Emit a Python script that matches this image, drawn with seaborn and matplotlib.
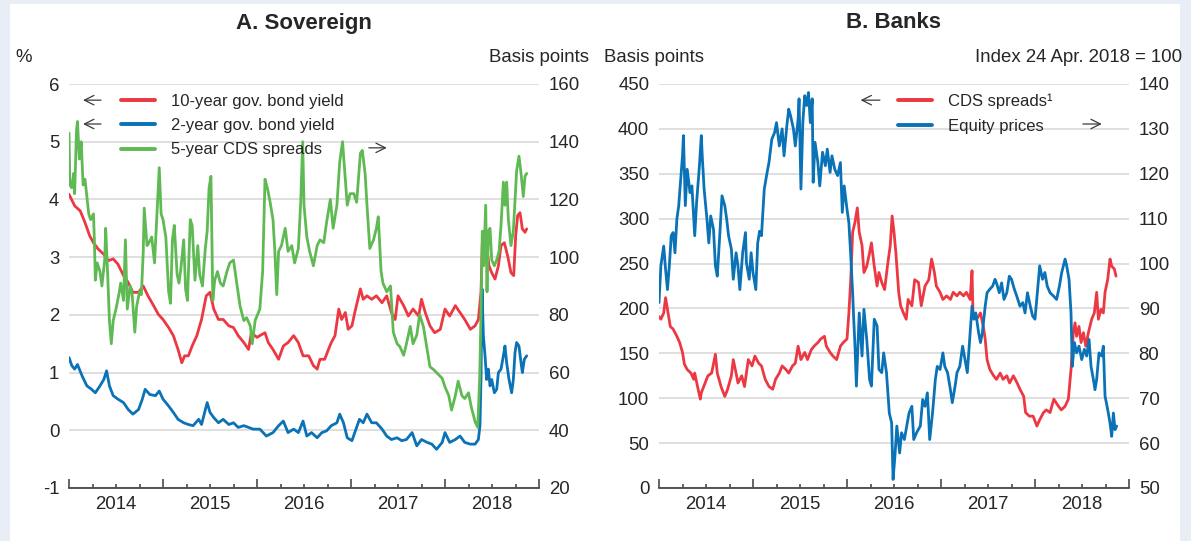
import matplotlib
matplotlib.use("Agg")
import matplotlib.pyplot as plt
import seaborn as sns
from matplotlib.ticker import FixedLocator, FuncFormatter, NullFormatter
from matplotlib.patches import Rectangle
from matplotlib.lines import Line2D

# ---------------------------------------------------------------------------
# Data (decimal year, value)
# ---------------------------------------------------------------------------
# Panel A: sovereign, % (left) and basis points (right)
sov_10y = [(2014.00, 4.09), (2014.06, 3.89), (2014.12, 3.80), (2014.17, 3.60), (2014.22, 3.37),
           (2014.26, 3.25), (2014.31, 3.14), (2014.37, 3.05), (2014.42, 2.94), (2014.47, 2.97),
           (2014.52, 2.88), (2014.58, 2.68), (2014.63, 2.56), (2014.68, 2.39), (2014.74, 2.39),
           (2014.79, 2.50), (2014.84, 2.33), (2014.90, 2.16), (2014.95, 2.01), (2015.00, 1.92),
           (2015.06, 1.78), (2015.11, 1.64), (2015.16, 1.40), (2015.20, 1.17), (2015.23, 1.29),
           (2015.27, 1.29), (2015.31, 1.46), (2015.36, 1.64), (2015.41, 1.92), (2015.46, 2.33),
           (2015.50, 2.39), (2015.54, 2.10), (2015.59, 1.92), (2015.64, 1.92), (2015.70, 1.81),
           (2015.75, 1.78), (2015.80, 1.64), (2015.86, 1.52), (2015.91, 1.40), (2015.94, 1.69),
           (2016.00, 1.61), (2016.03, 1.64), (2016.085, 1.69), (2016.12, 1.52), (2016.17, 1.40),
           (2016.23, 1.23), (2016.28, 1.46), (2016.33, 1.52), (2016.39, 1.64), (2016.44, 1.52),
           (2016.49, 1.29), (2016.55, 1.29), (2016.60, 1.12), (2016.64, 1.06), (2016.67, 1.23),
           (2016.72, 1.23), (2016.76, 1.40), (2016.79, 1.52), (2016.83, 1.64), (2016.87, 2.10),
           (2016.90, 1.92), (2016.94, 2.04), (2016.97, 1.75), (2017.01, 1.81), (2017.04, 2.04),
           (2017.10, 2.45), (2017.13, 2.27), (2017.17, 2.33), (2017.22, 2.27), (2017.27, 2.33),
           (2017.33, 2.21), (2017.38, 2.33), (2017.43, 2.04), (2017.47, 1.92), (2017.50, 2.33),
           (2017.56, 2.16), (2017.61, 1.98), (2017.66, 2.10), (2017.72, 1.98), (2017.75, 2.27),
           (2017.79, 2.04), (2017.84, 1.81), (2017.89, 1.69), (2017.95, 1.75), (2018.00, 2.10),
           (2018.05, 1.98), (2018.11, 2.16), (2018.16, 2.04), (2018.21, 1.92), (2018.27, 1.75),
           (2018.32, 1.81), (2018.355, 1.92), (2018.383, 2.39), (2018.397, 3.25), (2018.419, 2.91),
           (2018.443, 3.20), (2018.468, 2.85), (2018.497, 2.73), (2018.532, 2.62), (2018.568, 2.85),
           (2018.596, 3.20), (2018.631, 3.25), (2018.667, 3.02), (2018.702, 2.73), (2018.731, 2.68),
           (2018.752, 3.37), (2018.773, 3.72), (2018.798, 3.77), (2018.823, 3.49), (2018.851, 3.43),
           (2018.869, 3.49)]

sov_2y = [(2014.00, 1.26), (2014.03, 1.12), (2014.06, 1.06), (2014.09, 1.14), (2014.14, 0.94),
          (2014.19, 0.77), (2014.24, 0.71), (2014.28, 0.65), (2014.33, 0.77), (2014.37, 0.88),
          (2014.40, 1.03), (2014.43, 0.77), (2014.47, 0.60), (2014.52, 0.54), (2014.58, 0.48),
          (2014.63, 0.36), (2014.68, 0.28), (2014.74, 0.36), (2014.78, 0.54), (2014.81, 0.71),
          (2014.86, 0.62), (2014.92, 0.60), (2014.96, 0.68), (2015.00, 0.54), (2015.06, 0.42),
          (2015.11, 0.31), (2015.16, 0.19), (2015.22, 0.13), (2015.27, 0.10), (2015.32, 0.08),
          (2015.38, 0.19), (2015.41, 0.10), (2015.47, 0.48), (2015.50, 0.31), (2015.54, 0.22),
          (2015.59, 0.13), (2015.64, 0.19), (2015.70, 0.10), (2015.75, 0.13), (2015.80, 0.05),
          (2015.86, 0.08), (2015.91, 0.05), (2015.96, 0.02), (2016.03, 0.02), (2016.10, -0.10),
          (2016.17, -0.04), (2016.23, 0.08), (2016.28, 0.16), (2016.33, -0.04), (2016.39, 0.02),
          (2016.44, -0.04), (2016.49, 0.16), (2016.53, -0.10), (2016.58, -0.04), (2016.64, -0.13),
          (2016.69, -0.04), (2016.74, -0.01), (2016.79, 0.08), (2016.85, 0.13), (2016.88, 0.28),
          (2016.92, 0.13), (2016.96, -0.13), (2017.01, -0.18), (2017.04, -0.04), (2017.09, 0.19),
          (2017.13, 0.13), (2017.17, 0.28), (2017.22, 0.13), (2017.27, 0.13), (2017.33, 0.02),
          (2017.38, -0.10), (2017.43, -0.16), (2017.49, -0.13), (2017.54, -0.18), (2017.59, -0.16),
          (2017.65, -0.04), (2017.70, -0.27), (2017.75, -0.16), (2017.81, -0.21), (2017.86, -0.24),
          (2017.91, -0.33), (2017.97, -0.21), (2018.00, -0.04), (2018.05, -0.21), (2018.11, -0.16),
          (2018.16, -0.10), (2018.21, -0.21), (2018.27, -0.24), (2018.32, -0.24), (2018.355, -0.16),
          (2018.372, 0.08), (2018.383, 0.90), (2018.394, 2.45), (2018.408, 1.64), (2018.426, 1.29),
          (2018.443, 0.88), (2018.461, 1.06), (2018.479, 0.77), (2018.497, 0.88), (2018.525, 0.65),
          (2018.550, 0.71), (2018.568, 1.00), (2018.596, 1.06), (2018.621, 1.29), (2018.638, 1.46),
          (2018.656, 1.17), (2018.681, 0.88), (2018.709, 0.65), (2018.727, 0.88), (2018.745, 1.35),
          (2018.762, 1.52), (2018.787, 1.46), (2018.809, 1.17), (2018.823, 1.00), (2018.844, 1.23),
          (2018.869, 1.29)]

sov_cds = [(2014.00, 143), (2014.01, 125), (2014.03, 124), (2014.05, 129), (2014.06, 122),
           (2014.08, 144), (2014.09, 147), (2014.11, 134), (2014.13, 140), (2014.15, 125),
           (2014.17, 127), (2014.19, 121), (2014.21, 115), (2014.23, 113), (2014.26, 115),
           (2014.27, 106), (2014.28, 92), (2014.30, 98), (2014.33, 95), (2014.35, 90),
           (2014.38, 99), (2014.39, 110), (2014.41, 95), (2014.43, 78), (2014.45, 70),
           (2014.47, 78), (2014.50, 82), (2014.53, 87), (2014.55, 91), (2014.58, 85),
           (2014.60, 106), (2014.62, 82), (2014.65, 90), (2014.67, 88), (2014.70, 74),
           (2014.72, 83), (2014.75, 88), (2014.77, 87), (2014.79, 102), (2014.80, 117),
           (2014.83, 104), (2014.85, 105), (2014.88, 107), (2014.91, 98), (2014.93, 111),
           (2014.96, 131), (2014.98, 115), (2015.00, 113), (2015.03, 107), (2015.06, 88),
           (2015.08, 84), (2015.10, 106), (2015.12, 111), (2015.15, 94), (2015.17, 91),
           (2015.19, 96), (2015.22, 106), (2015.24, 89), (2015.26, 85), (2015.29, 113),
           (2015.31, 111), (2015.34, 92), (2015.37, 104), (2015.39, 94), (2015.42, 90),
           (2015.45, 103), (2015.47, 109), (2015.49, 124), (2015.51, 128), (2015.53, 85),
           (2015.55, 92), (2015.58, 95), (2015.61, 91), (2015.64, 90), (2015.68, 95),
           (2015.71, 98), (2015.75, 99), (2015.78, 92), (2015.82, 83), (2015.86, 78),
           (2015.89, 79), (2015.93, 76), (2015.95, 70), (2015.98, 78), (2016.03, 82),
           (2016.06, 95), (2016.085, 127), (2016.11, 124), (2016.14, 119), (2016.17, 113),
           (2016.19, 102), (2016.21, 87), (2016.23, 102), (2016.26, 104), (2016.30, 110),
           (2016.33, 102), (2016.37, 104), (2016.40, 98), (2016.44, 103), (2016.465, 119),
           (2016.486, 140), (2016.50, 118), (2016.53, 107), (2016.56, 102), (2016.60, 97),
           (2016.64, 104), (2016.67, 106), (2016.71, 105), (2016.74, 112), (2016.78, 120),
           (2016.81, 110), (2016.85, 118), (2016.88, 133), (2016.91, 140), (2016.94, 127),
           (2016.96, 118), (2016.99, 122), (2017.03, 122), (2017.06, 119), (2017.10, 136),
           (2017.12, 137), (2017.15, 129), (2017.17, 118), (2017.20, 103), (2017.24, 106),
           (2017.27, 110), (2017.29, 114), (2017.32, 95), (2017.34, 91), (2017.38, 88),
           (2017.42, 90), (2017.45, 74), (2017.49, 70), (2017.52, 69), (2017.56, 66),
           (2017.59, 70), (2017.63, 76), (2017.66, 70), (2017.70, 73), (2017.73, 80),
           (2017.77, 76), (2017.81, 68), (2017.84, 62), (2017.88, 61), (2017.91, 60),
           (2017.97, 58), (2018.00, 55), (2018.04, 52), (2018.07, 47), (2018.11, 52),
           (2018.14, 57), (2018.18, 52), (2018.21, 51), (2018.25, 53), (2018.28, 48),
           (2018.32, 43), (2018.348, 41), (2018.369, 58), (2018.383, 81), (2018.397, 109),
           (2018.411, 97), (2018.433, 118), (2018.447, 88), (2018.461, 109), (2018.479, 110),
           (2018.497, 99), (2018.525, 97), (2018.550, 99), (2018.575, 102), (2018.596, 111),
           (2018.621, 126), (2018.638, 118), (2018.656, 126), (2018.674, 113), (2018.702, 104),
           (2018.727, 109), (2018.745, 120), (2018.762, 130), (2018.787, 135), (2018.809, 129),
           (2018.833, 121), (2018.851, 128), (2018.869, 129)]

# Panel B: banks, basis points (left) and index (right)
bank_cds = [(2014.00, 191), (2014.02, 188), (2014.05, 195), (2014.07, 212), (2014.09, 199),
            (2014.12, 180), (2014.15, 177), (2014.19, 169), (2014.22, 162), (2014.25, 151),
            (2014.27, 138), (2014.30, 132), (2014.34, 128), (2014.37, 121), (2014.38, 128),
            (2014.41, 113), (2014.44, 99), (2014.45, 106), (2014.49, 117), (2014.52, 125),
            (2014.56, 128), (2014.60, 149), (2014.62, 128), (2014.66, 113), (2014.70, 102),
            (2014.73, 110), (2014.77, 125), (2014.79, 143), (2014.82, 128), (2014.84, 117),
            (2014.88, 125), (2014.91, 113), (2014.95, 143), (2014.99, 136), (2015.02, 147),
            (2015.06, 139), (2015.09, 136), (2015.13, 121), (2015.17, 113), (2015.21, 110),
            (2015.24, 121), (2015.28, 128), (2015.31, 136), (2015.35, 132), (2015.38, 128),
            (2015.42, 136), (2015.45, 139), (2015.48, 158), (2015.51, 143), (2015.55, 151),
            (2015.58, 143), (2015.62, 154), (2015.65, 158), (2015.69, 162), (2015.72, 166),
            (2015.76, 169), (2015.78, 158), (2015.82, 151), (2015.85, 147), (2015.89, 143),
            (2015.93, 158), (2015.96, 162), (2016.00, 166), (2016.02, 195), (2016.04, 232),
            (2016.06, 285), (2016.085, 296), (2016.11, 312), (2016.13, 285), (2016.16, 270),
            (2016.18, 240), (2016.21, 247), (2016.24, 262), (2016.26, 273), (2016.29, 247),
            (2016.32, 225), (2016.34, 240), (2016.37, 229), (2016.40, 221), (2016.43, 247),
            (2016.46, 270), (2016.48, 303), (2016.50, 285), (2016.52, 262), (2016.55, 218),
            (2016.57, 203), (2016.60, 195), (2016.63, 188), (2016.65, 210), (2016.69, 203),
            (2016.72, 232), (2016.76, 229), (2016.79, 203), (2016.83, 225), (2016.87, 232),
            (2016.90, 255), (2016.93, 240), (2016.95, 225), (2016.99, 218), (2017.02, 210),
            (2017.06, 214), (2017.10, 210), (2017.13, 218), (2017.17, 214), (2017.20, 218),
            (2017.24, 214), (2017.27, 218), (2017.31, 210), (2017.33, 242), (2017.34, 195),
            (2017.38, 188), (2017.42, 195), (2017.45, 180), (2017.47, 166), (2017.49, 143),
            (2017.52, 132), (2017.56, 125), (2017.59, 121), (2017.63, 128), (2017.66, 121),
            (2017.70, 125), (2017.73, 117), (2017.77, 125), (2017.81, 117), (2017.84, 110),
            (2017.88, 102), (2017.90, 84), (2017.94, 80), (2017.98, 80), (2018.02, 69),
            (2018.05, 76), (2018.09, 84), (2018.12, 87), (2018.16, 84), (2018.20, 99),
            (2018.25, 91), (2018.28, 87), (2018.32, 91), (2018.355, 99), (2018.383, 132),
            (2018.408, 173), (2018.426, 184), (2018.443, 169), (2018.468, 180), (2018.49, 162),
            (2018.515, 173), (2018.54, 158), (2018.568, 173), (2018.603, 188), (2018.631, 195),
            (2018.656, 218), (2018.674, 188), (2018.702, 199), (2018.727, 195), (2018.745, 218),
            (2018.773, 232), (2018.798, 255), (2018.816, 247), (2018.844, 244), (2018.862, 236)]

bank_equity = [(2014.00, 91.3), (2014.02, 99.5), (2014.05, 103.9), (2014.07, 98.7), (2014.09, 94.2),
               (2014.11, 99.5), (2014.13, 106.2), (2014.15, 106.9), (2014.17, 102.4), (2014.19, 109.9),
               (2014.21, 112.9), (2014.22, 115.8), (2014.25, 124.0), (2014.26, 128.5), (2014.28, 112.9),
               (2014.30, 121.0), (2014.33, 115.8), (2014.35, 117.3), (2014.38, 106.2), (2014.40, 113.6),
               (2014.43, 121.8), (2014.45, 128.5), (2014.46, 124.0), (2014.48, 116.6), (2014.51, 109.9),
               (2014.53, 104.6), (2014.55, 110.6), (2014.58, 107.6), (2014.60, 99.5), (2014.62, 97.2),
               (2014.65, 107.6), (2014.67, 115.1), (2014.70, 112.9), (2014.72, 109.9), (2014.74, 106.2),
               (2014.77, 103.2), (2014.79, 96.5), (2014.82, 102.4), (2014.84, 99.5), (2014.86, 94.2),
               (2014.89, 102.4), (2014.92, 106.9), (2014.93, 100.2), (2014.96, 96.5), (2014.98, 102.4),
               (2015.00, 98.0), (2015.03, 94.2), (2015.05, 104.6), (2015.07, 107.2), (2015.09, 106.2),
               (2015.12, 116.6), (2015.15, 120.3), (2015.17, 122.5), (2015.20, 127.7), (2015.23, 129.2),
               (2015.25, 131.4), (2015.28, 126.2), (2015.31, 130.0), (2015.33, 124.0), (2015.36, 130.7),
               (2015.38, 134.4), (2015.40, 132.9), (2015.43, 130.0), (2015.45, 126.2), (2015.48, 132.2),
               (2015.49, 136.7), (2015.51, 116.6), (2015.53, 131.4), (2015.55, 137.4), (2015.57, 135.2),
               (2015.59, 138.1), (2015.61, 131.4), (2015.63, 136.7), (2015.64, 118.1), (2015.66, 127.0),
               (2015.69, 122.5), (2015.71, 117.3), (2015.74, 124.8), (2015.77, 121.8), (2015.79, 125.5),
               (2015.82, 120.3), (2015.84, 124.0), (2015.87, 121.0), (2015.90, 119.6), (2015.93, 122.5),
               (2015.95, 111.4), (2015.97, 117.3), (2016.00, 112.1), (2016.02, 109.1), (2016.04, 101.7),
               (2016.06, 93.5), (2016.07, 88.3), (2016.085, 81.6), (2016.10, 72.7), (2016.13, 89.0),
               (2016.16, 79.4), (2016.18, 89.8), (2016.21, 83.1), (2016.24, 74.2), (2016.26, 72.7),
               (2016.29, 87.6), (2016.32, 86.1), (2016.34, 76.4), (2016.37, 75.7), (2016.39, 80.1),
               (2016.42, 75.7), (2016.45, 66.7), (2016.475, 64.5), (2016.49, 51.9), (2016.51, 57.1),
               (2016.53, 63.8), (2016.56, 57.8), (2016.58, 62.3), (2016.61, 60.8), (2016.635, 63.8),
               (2016.66, 66.7), (2016.69, 68.2), (2016.71, 60.8), (2016.74, 62.3), (2016.78, 63.8),
               (2016.805, 69.7), (2016.83, 68.2), (2016.855, 71.2), (2016.88, 60.8), (2016.91, 66.7),
               (2016.94, 74.2), (2016.96, 77.1), (2016.99, 76.4), (2017.02, 80.1), (2017.04, 77.1),
               (2017.07, 75.7), (2017.10, 71.9), (2017.12, 69.0), (2017.15, 72.7), (2017.17, 75.7),
               (2017.20, 77.1), (2017.23, 81.6), (2017.255, 78.6), (2017.28, 75.7), (2017.30, 81.6),
               (2017.33, 90.5), (2017.35, 87.6), (2017.37, 89.0), (2017.40, 84.6), (2017.42, 82.4),
               (2017.44, 84.6), (2017.47, 90.5), (2017.49, 93.5), (2017.52, 94.3), (2017.55, 95.0),
               (2017.575, 96.5), (2017.59, 95.7), (2017.62, 93.5), (2017.645, 95.7), (2017.67, 92.0),
               (2017.70, 93.5), (2017.727, 97.2), (2017.75, 96.5), (2017.78, 94.3), (2017.805, 92.8),
               (2017.84, 90.5), (2017.87, 91.3), (2017.894, 89.0), (2017.92, 93.5), (2017.95, 90.5),
               (2017.975, 88.3), (2018.00, 87.6), (2018.025, 93.5), (2018.05, 99.5), (2018.08, 96.5),
               (2018.105, 98.0), (2018.13, 95.0), (2018.16, 93.5), (2018.195, 92.8), (2018.23, 92.0),
               (2018.26, 95.0), (2018.284, 98.0), (2018.32, 101.0), (2018.337, 99.5), (2018.362, 96.5),
               (2018.383, 89.0), (2018.397, 77.1), (2018.419, 82.4), (2018.443, 80.1), (2018.468, 81.6),
               (2018.497, 78.6), (2018.525, 80.9), (2018.55, 79.4), (2018.575, 83.1), (2018.596, 77.1),
               (2018.621, 74.2), (2018.638, 71.9), (2018.656, 74.2), (2018.681, 80.1), (2018.709, 79.4),
               (2018.727, 81.6), (2018.745, 70.5), (2018.773, 67.5), (2018.798, 64.5), (2018.816, 61.5),
               (2018.834, 66.7), (2018.851, 63.0), (2018.869, 63.8)]

year_labels = ["2014", "2015", "2016", "2017", "2018"]
panel_titles = ["A. Sovereign", "B. Banks"]
sov_labels = ["10-year gov. bond yield", "2-year gov. bond yield", "5-year CDS spreads"]
bank_labels = ["CDS spreads\u00b9", "Equity prices"]

# ---------------------------------------------------------------------------
# Style
# ---------------------------------------------------------------------------
RED = "#ec3842"
BLUE = "#0a72b6"
GREEN = "#5fba53"
GRID = "#d9d9d9"
AXIS = "#3a3a3a"
TXT = "#262626"
FRAME = "#e9eef6"
FS = 13.4       # tick labels, units
FS_LEG = 12.0   # legend entries
LW = 2.0

sns.set_theme(style="white")
plt.rcParams["font.family"] = ["Liberation Sans", "DejaVu Sans"]
plt.rcParams["text.color"] = TXT
plt.rcParams["axes.unicode_minus"] = False

W, H = 1191, 541
fig = plt.figure(figsize=(W / 100, H / 100), dpi=100)
fig.patch.set_facecolor(FRAME)
fig.add_artist(Rectangle((10 / W, 0), 1170 / W, 537 / H, transform=fig.transFigure,
                         facecolor="white", edgecolor="none", zorder=-10))


def unzip(pairs):
    return [p[0] for p in pairs], [p[1] for p in pairs]


def make_panel(left_px):
    ax = fig.add_axes([left_px / W, (H - 488) / H, 470 / W, 404 / H])
    ax2 = ax.twinx()
    for a in (ax, ax2):
        for s in a.spines.values():
            s.set_visible(False)
        a.set_facecolor("none")
    ax.spines["bottom"].set_visible(True)
    ax.spines["bottom"].set_color(AXIS)
    ax.spines["bottom"].set_linewidth(1.2)
    ax.set_xlim(2014, 2019)
    ax.xaxis.set_major_locator(FixedLocator(list(range(2014, 2020))))
    ax.xaxis.set_major_formatter(NullFormatter())
    quarters = [y + q / 4 for y in range(2014, 2019) for q in (1, 2, 3)]
    mid = {2014 + i + 0.5: lab for i, lab in enumerate(year_labels)}
    ax.xaxis.set_minor_locator(FixedLocator(quarters))
    ax.xaxis.set_minor_formatter(FuncFormatter(
        lambda v, p: next((lab for k, lab in mid.items() if abs(k - v) < 1e-6), "")))
    ax.tick_params(axis="x", which="major", direction="in", length=6.5, width=1.1,
                   color=AXIS, bottom=True)
    ax.tick_params(axis="x", which="minor", direction="in", length=3.2, width=1.1,
                   color=AXIS, bottom=True, labelsize=FS, labelcolor=TXT, pad=6)
    ax.tick_params(axis="y", length=0, labelsize=FS, labelcolor=TXT, pad=7)
    ax2.tick_params(axis="y", length=0, labelsize=FS, labelcolor=TXT, pad=7)
    ax.grid(axis="y", color=GRID, linewidth=1.2)
    ax.set_axisbelow(True)
    return ax, ax2


def arrow(ax, x0, x1, y):
    ax.annotate("", xy=(x1, y), xytext=(x0, y), xycoords="axes fraction",
                arrowprops=dict(arrowstyle="->", lw=0.9, color=AXIS, mutation_scale=17))


def add_legend(ax, colors, labels, x_anchor):
    handles = [Line2D([], [], color=c, lw=2.8) for c in colors]
    ax.legend(handles, labels, loc="upper left", bbox_to_anchor=(x_anchor, 0.976),
              frameon=False, fontsize=FS_LEG, handlelength=2.05, handletextpad=0.95,
              labelspacing=0.56, borderpad=0, borderaxespad=0)


# ---------------------------------------------------------------------------
# Panel A: Sovereign
# ---------------------------------------------------------------------------
axA, axA2 = make_panel(69)
x, y = unzip(sov_10y)
sns.lineplot(x=x, y=y, ax=axA, color=RED, linewidth=LW, estimator=None)
x, y = unzip(sov_2y)
sns.lineplot(x=x, y=y, ax=axA, color=BLUE, linewidth=LW, estimator=None)
x, y = unzip(sov_cds)
sns.lineplot(x=x, y=y, ax=axA2, color=GREEN, linewidth=LW, estimator=None)
axA.set_ylim(-1, 6)
axA.set_yticks(range(-1, 7))
axA2.set_ylim(20, 160)
axA2.set_yticks(range(20, 161, 20))
for a in (axA, axA2):
    a.set_xlabel("")
    a.set_ylabel("")

add_legend(axA2, (RED, BLUE, GREEN), sov_labels, 0.1106)
arrow(axA2, 0.074, 0.024, 0.960)
arrow(axA2, 0.074, 0.024, 0.901)
arrow(axA2, 0.632, 0.682, 0.842)

# ---------------------------------------------------------------------------
# Panel B: Banks
# ---------------------------------------------------------------------------
axB, axB2 = make_panel(659)
x, y = unzip(bank_cds)
sns.lineplot(x=x, y=y, ax=axB, color=RED, linewidth=LW, estimator=None)
x, y = unzip(bank_equity)
sns.lineplot(x=x, y=y, ax=axB2, color=BLUE, linewidth=LW, estimator=None)
axB.set_ylim(0, 450)
axB.set_yticks(range(0, 451, 50))
axB2.set_ylim(50, 140)
axB2.set_yticks(range(50, 141, 10))
for a in (axB, axB2):
    a.set_xlabel("")
    a.set_ylabel("")

add_legend(axB2, (RED, BLUE), bank_labels, 0.5085)
arrow(axB2, 0.476, 0.423, 0.960)
arrow(axB2, 0.896, 0.948, 0.901)

# ---------------------------------------------------------------------------
# Titles and unit labels
# ---------------------------------------------------------------------------
fig.text(304 / W, 1 - 23 / H, panel_titles[0], ha="center", va="center",
         fontsize=16, fontweight="bold")
fig.text(894 / W, 1 - 23 / H, panel_titles[1], ha="center", va="center",
         fontsize=16, fontweight="bold")
fig.text(15 / W, 1 - 57 / H, "%", ha="left", va="center", fontsize=FS)
fig.text(589 / W, 1 - 57 / H, "Basis points", ha="right", va="center", fontsize=FS)
fig.text(604 / W, 1 - 57 / H, "Basis points", ha="left", va="center", fontsize=FS)
fig.text(1182 / W, 1 - 57 / H, "Index 24 Apr. 2018 = 100", ha="right", va="center",
         fontsize=FS)

fig.savefig("out.png", dpi=100, facecolor=fig.get_facecolor())
